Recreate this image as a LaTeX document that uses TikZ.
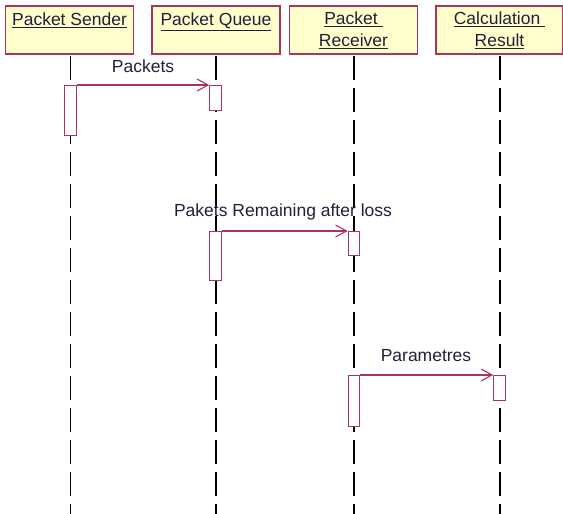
\documentclass[tikz,border=0pt]{standalone}
\usepackage{fontspec}
\setmainfont{Liberation Sans}
\usepackage{tikz}
\usetikzlibrary{arrows.meta,positioning}
\definecolor{umlred}{RGB}{172,52,92}
\definecolor{umlfill}{RGB}{255,255,204}
\definecolor{umltext}{RGB}{36,30,60}

\begin{document}
\begin{tikzpicture}[x=1pt,y=-1pt,>={Straight Barb[length=11pt,width=12pt]},
 font=\fontsize{17.5}{22}\selectfont,
 obj/.style={draw=umlred,line width=1.2pt,fill=umlfill,minimum width=128pt,minimum height=48pt,inner sep=0pt,align=center,text=umltext},
 act/.style={draw=umlred,line width=1.1pt,fill=white,minimum width=11.5pt,inner sep=0pt,anchor=north},
 life/.style={line width=1.2pt,dash pattern=on 23.5pt off 8.5pt},
 msg/.style={->,draw=umlred,line width=1.1pt},
 lbl/.style={text=umltext,inner sep=0pt}]
\useasboundingbox (0,0) rectangle (563,514);
% objects
\node[obj] (snd) at (69.5,30) {\underline{Packet Sender}\\\mbox{}};
\node[obj] (que) at (216,30) {\underline{Packet Queue}\\\mbox{}};
\node[obj] (rcv) at (353.5,30) {\underline{Packet }\\\underline{Receiver}};
\node[obj,minimum width=127pt] (res) at (499.5,30) {\underline{Calculation }\\\underline{Result}};
% lifelines
\foreach \o/\x in {snd/70.5,que/216,rcv/354,res/500}{
  \coordinate (\o end) at (\x,520);
  \draw[life] (\x,56) -- (\o end);}
% activations
\node[act,minimum height=50pt] (sndA) at (70.5,85) {};
\node[act,minimum height=25pt] (queA) at (215.5,85) {};
\node[act,minimum height=49pt] (queB) at (215.5,231) {};
\node[act,minimum height=24pt] (rcvB) at (354,231) {};
\node[act,minimum height=51pt] (rcvC) at (354,375) {};
\node[act,minimum height=25pt] (resC) at (499.5,375) {};
% messages
\draw[msg] (sndA.north east) -- (queA.north west);
\draw[msg] (queB.north east) -- (rcvB.north west);
\draw[msg] (rcvC.north east) -- (resC.north west);
\node[lbl] (m1) at (143,66) {Packets};
\node[lbl] (m2) at (283,212) {Pakets Remaining after loss};
\node[lbl] (m3) at (426,356) {Parametres};
\end{tikzpicture}
\end{document}
